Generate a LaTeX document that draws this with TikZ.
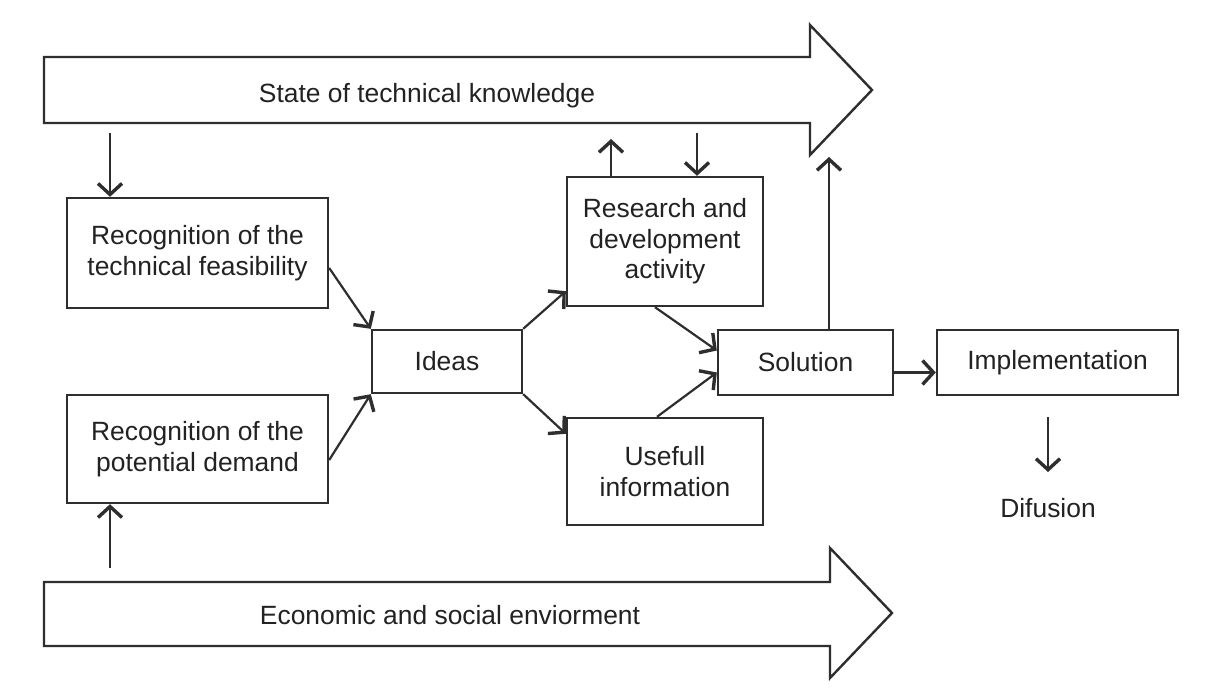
\documentclass[tikz,border=0pt]{standalone}
\usepackage{fontspec}
\setmainfont{Liberation Sans}
\usetikzlibrary{arrows.meta,calc}
\definecolor{ln}{HTML}{2E2E2E}
\definecolor{tx}{HTML}{222222}
\tikzset{
  box/.style={draw=ln, line width=1.2pt, fill=white, align=center, inner sep=0pt, text=tx, font=\fontsize{13.2}{15.3}\selectfont},
  lbl/.style={text=tx, font=\fontsize{13.2}{15.3}\selectfont, inner sep=0pt},
  bigarrow/.style={draw=ln, line width=1.2pt, line join=miter},
  arr/.style={draw=ln, line width=1.1pt, -{Straight Barb[length=5.5pt,width=12pt,line width=1.7pt]}}
}
\begin{document}
\begin{tikzpicture}[x=0.5pt,y=-0.5pt]
\useasboundingbox (0,0) rectangle (1210,695);
\fill[white] (0,0) rectangle (1210,695);
% big arrows
\draw[bigarrow] (44,57) -- (810,57) -- (810,25) -- (872,90) -- (810,155) -- (810,123) -- (44,123) -- cycle;
\node[lbl] (top) at (427,96) {State of technical knowledge};
\draw[bigarrow] (44,582) -- (830,582) -- (830,548) -- (892,613) -- (830,678) -- (830,646) -- (44,646) -- cycle;
\node[lbl] (bot) at (450,615) {Economic and social enviorment};
% boxes
\node[box, minimum width=130.5pt, minimum height=55pt] (feas) at (197.5,253) {Recognition of the\\technical feasibility};
\node[box, minimum width=130.5pt, minimum height=54pt] (dem) at (197.5,449) {Recognition of the\\potential demand};
\node[box, minimum width=75pt, minimum height=31.5pt] (ideas) at (447,361.5) {Ideas};
\node[box, minimum width=98pt, minimum height=64.5pt] (rd) at (665,241.5) {Research and\\development\\activity};
\node[box, minimum width=98pt, minimum height=53.5pt] (use) at (665,471.5) {Usefull\\information};
\node[box, minimum width=87.5pt, minimum height=32.5pt] (sol) at (805.5,362.5) {Solution};
\node[box, minimum width=120.5pt, minimum height=32.5pt] (imp) at (1057.5,362.5) {Implementation};
\node[lbl] (dif) at (1048,508) {Difusion};
% coordinates on the big arrows
\coordinate (t1) at (110,133);
\coordinate (b1) at (110,568);
\coordinate (t2) at (611,139);
\coordinate (r1) at (611,177);
\coordinate (t3) at (697,133);
\coordinate (t4) at (829,157);
\coordinate (d1) at (1048,417);
\coordinate (d2) at (1048,472);
% connectors
\draw[arr] (t1) -- (t1 |- feas.north);
\draw[arr] (b1) -- (b1 |- dem.south);
\draw[arr] ($(feas.east)+(0,15)$) -- (ideas.north west);
\draw[arr] ($(dem.east)+(0,11)$) -- (ideas.south west);
\draw[arr] (ideas.north east) -- ($(rd.south west)+(0,-16)$);
\draw[arr] (ideas.south east) -- ($(use.north west)+(0,17)$);
\draw[arr] ($(rd.south)+(-10,0)$) -- ($(sol.west)+(0,-12)$);
\draw[arr] ($(use.north)+(-8,0)$) -- ($(sol.west)+(0,10)$);
\draw[arr] (r1 |- rd.north) -- (t2);
\draw[arr] (t3) -- (t3 |- rd.north);
\draw[arr] (t4 |- sol.north) -- (t4);
\draw[arr] ($(sol.east)+(0,10)$) -- ($(imp.west)+(0,10)$);
\draw[arr] (d1) -- (d2);
\end{tikzpicture}
\end{document}
